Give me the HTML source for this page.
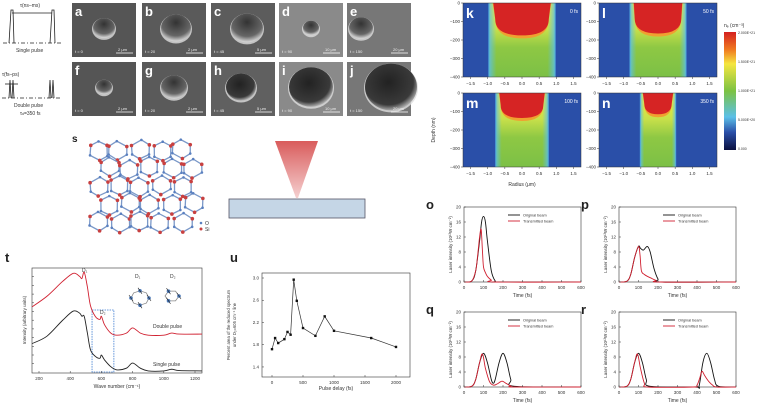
<!DOCTYPE html>
<html><head><meta charset="utf-8"><style>
html,body{margin:0;padding:0;background:#fff;}
svg{display:block;font-family:"Liberation Sans",sans-serif;}
</style></head><body>
<svg id="fig" width="762" height="405" viewBox="0 0 762 405">
<defs>
<linearGradient id="cbar" x1="0" y1="0" x2="0" y2="1">
<stop offset="0" stop-color="#d42020"/><stop offset="0.15" stop-color="#f07a20"/><stop offset="0.27" stop-color="#f5e640"/><stop offset="0.5" stop-color="#7cc242"/><stop offset="0.72" stop-color="#5bc0e8"/><stop offset="0.85" stop-color="#2a4fa8"/><stop offset="1" stop-color="#0a1040"/>
</linearGradient>
<linearGradient id="col" x1="0" y1="0" x2="0" y2="1">
<stop offset="0" stop-color="#f2ea3c"/><stop offset="0.35" stop-color="#c8e04a"/><stop offset="0.6" stop-color="#8ec844"/><stop offset="1" stop-color="#7cc046"/>
</linearGradient>
<linearGradient id="edge" x1="0" y1="0" x2="1" y2="0">
<stop offset="0" stop-color="#5bc0e8" stop-opacity="0.9"/><stop offset="0.12" stop-color="#5bc0e8" stop-opacity="0"/><stop offset="0.88" stop-color="#5bc0e8" stop-opacity="0"/><stop offset="1" stop-color="#5bc0e8" stop-opacity="0.9"/>
</linearGradient>
<linearGradient id="cone" x1="0" y1="0" x2="0" y2="1">
<stop offset="0" stop-color="#d95c5c"/><stop offset="1" stop-color="#f5d0d0"/>
</linearGradient>
<radialGradient id="holeD" cx="0.45" cy="0.4" r="0.6"><stop offset="0" stop-color="#222"/><stop offset="0.8" stop-color="#3a3a3a"/><stop offset="1" stop-color="#aaa"/></radialGradient>
<radialGradient id="holeS" cx="0.5" cy="0.3" r="0.7"><stop offset="0" stop-color="#333"/><stop offset="0.7" stop-color="#666"/><stop offset="1" stop-color="#ddd"/></radialGradient>
</defs>
<g id="schem" stroke="#222" fill="none" stroke-width="0.8">
<line x1="3" y1="43" x2="62" y2="43" stroke-dasharray="4,2,1,2"/>
<polyline points="9,43 11,10 13,10 14,43"/><polyline points="50,43 52,10 54,10 55,43"/>
<line x1="12" y1="13" x2="52" y2="13"/>
<line x1="2" y1="98" x2="62" y2="98" stroke-dasharray="4,2,1,2"/>
<polyline points="9,98 10,80 11,98"/><polyline points="12,98 13,80 14,98"/>
<polyline points="49,98 50,80 51,98"/><polyline points="52,98 53,80 54,98"/>
<line x1="5" y1="84" x2="18" y2="84"/>
</g>
<g font-size="5" fill="#333">
<text x="20" y="7">τ(ns–ms)</text><text x="16" y="52">Single pulse</text>
<text x="2" y="76">τ(fs–ps)</text><text x="14" y="107">Double pulse</text><text x="20" y="115">τ<tspan font-size="3.5">d</tspan>=350 fs</text>
</g>
<g id="sem"></g>
<g id="heat"></g>
<g id="s"></g>
<g>
<polygon points="275,141 318,141 298,198 296,198" fill="url(#cone)"/>
<rect x="229" y="199" width="136" height="19" fill="#c5d6e6" stroke="#556" stroke-width="0.8"/>
</g>
<g id="t"></g>
<g id="u"></g>
<g id="lines"></g>
</svg>
<script>
// ---- data ----
const semLabels=['a','b','c','d','e','f','g','h','i','j'];
const semTimes=['0','20','45','90','150','0','20','45','90','150'];
const semScale=['2 μm','2 μm','5 μm','10 μm','20 μm','2 μm','2 μm','5 μm','10 μm','20 μm'];
const heatLabels=['k','l','m','n'];
const heatTimes=['0 fs','50 fs','100 fs','350 fs'];
const heatHalfWidth=[0.95,0.8,0.75,0.5];
const heatRedDepth=[175,165,135,115];
const heatRedHalf=[0.78,0.68,0.62,0.4];
const radiusTicks=[-1.5,-1,-0.5,0,0.5,1,1.5];
const depthTicks=[0,-100,-200,-300,-400];
const cbarLabels=['2.000E+21','1.500E+21','1.000E+21','5.000E+20','0.000'];
const ramanX=[155,250,350,420,460,475,490,510,530,560,590,600,620,660,700,760,800,850,900,1000,1050,1100,1245];
const ramanDouble=[63,73,87,95,92,90,96,82,64,54,51,54,46,38,36,38,43,38,36,36,38,37,37];
const ramanSingle=[28,35,50,59,57,54,54,38,22,16,14,17,12.5,6,3,4.6,9.4,4.6,2,2,3.6,2.3,2];
const ramanTicks=[200,400,600,800,1000,1200];
const delayX=[0,50,100,200,250,300,350,400,500,700,850,1000,1600,2000];
const areaY=[1.72,1.92,1.83,1.9,2.03,1.98,2.97,2.59,2.1,1.96,2.31,2.05,1.92,1.76];
const delayTicks=[0,500,1000,1500,2000];
const areaTicks=[1.4,1.8,2.2,2.6,3.0];
const timeTicks=[0,100,200,300,400,500,600];
const intTicks=[0,4,8,12,16,20];
const oOrigX=[0,40,60,80,90,100,110,120,140,160,180,600], oOrigY=[0,0.3,3,11,16,17.5,16,11,3,0.3,0,0];
const oTranX=[0,40,60,70,80,88,95,100,110,120,140,160,600], oTranY=[0,0.3,3,7,12,14,8,4,2.5,1.5,0.5,0,0];
const pOrigX=[0,40,60,80,100,110,125,145,160,180,200,220,600], pOrigY=[0,0.2,2,6.5,9.5,9,8.5,9.5,8,3.5,0.8,0,0];
const pTranX=[0,40,60,80,100,108,115,130,150,170,190,210,600], pTranY=[0,0.2,2,6.5,9.5,7,3,2,1.4,0.9,0.4,0,0];
const qOrigX=[0,40,60,80,100,120,140,150,160,180,200,220,240,260,600], qOrigY=[0,0.2,2,6.5,9,6.5,2,1,2,6.5,9,6.5,2,0.2,0];
const qTranX=[0,40,60,80,95,110,130,150,170,190,200,215,240,260,600], qTranY=[0,0.2,2,6.5,8.8,5,1.5,0.5,0.8,1.5,1.5,1,0.3,0,0];
const rOrigX=[0,40,60,80,100,120,140,160,390,410,430,450,470,490,510,600], rOrigY=[0,0.2,2,6.5,9,6.5,2,0.2,0,0.2,6.5,9,6.5,2,0.2,0];
const rTranX=[0,40,60,80,95,110,130,150,380,400,415,425,440,460,480,500,600], rTranY=[0,0.2,2,6.5,8.8,5,1,0,0,0.5,2.5,4.2,3,1.5,0.5,0,0];

const NS='http://www.w3.org/2000/svg';
function mk(p,tag,attrs,txt){const e=document.createElementNS(NS,tag);for(const k in attrs)e.setAttribute(k,attrs[k]);if(txt!==undefined)e.textContent=txt;p.appendChild(e);return e;}

// ---- SEM ----
const sem=document.getElementById('sem');
const colX=[72,142,211,279,347], rowY=[3,62], W=64, H=54;
const holeR=[[11,15,16,8,12],[8,13,15,22,26]];
const holeDX=[[0,2,4,0,-18],[0,0,-2,0,12]];
const bg=[['#555','#5a5a5a','#5c5c5c','#8a8a8a','#777'],['#555','#5a5a5a','#606060','#8a8a8a','#777']];
semLabels.forEach((lab,i)=>{
 const r=Math.floor(i/5),c=i%5,x=colX[c],y=rowY[r];
 const g=mk(sem,'g',{});
 
 
 mk(g,'rect',{x:x,y:y,width:W,height:H,fill:bg[r][c]});
 const cx=x+W/2+holeDX[r][c],cy=y+H/2-2,rr=holeR[r][c];
 const dark=(r==1&&c>=2);
 mk(g,'ellipse',{cx:cx,cy:cy+1,rx:rr+1,ry:rr*0.9+1,fill:'#ddd',opacity:0.8});
 mk(g,'ellipse',{cx:cx,cy:cy,rx:rr,ry:rr*0.9,fill:dark?'url(#holeD)':'url(#holeS)'});
 mk(g,'text',{x:x+3,y:y+13,'font-size':13,'font-weight':'bold',fill:'#fff'},lab);
 mk(g,'text',{x:x+3,y:y+H-4,'font-size':4,fill:'#eee'},'t = '+semTimes[i]);
 mk(g,'text',{x:x+W-18,y:y+H-6,'font-size':4,fill:'#eee'},semScale[i]);
 mk(g,'line',{x1:x+W-20,y1:y+H-4,x2:x+W-3,y2:y+H-4,stroke:'#fff','stroke-width':0.8});
});
// ---- Heat maps ----
const heat=document.getElementById('heat');
const hx=[463,599,463,599], hy=[3,3,93,93], hw=118, hh=74;
heatLabels.forEach((lab,i)=>{
 const x0=hx[i],y0=hy[i];
 const xs=v=>x0+(v+1.72)/3.44*hw, ys=d=>y0+(-d)/400*hh;
 const g=mk(heat,'g',{});
 
 
 mk(g,'rect',{x:x0,y:y0,width:hw,height:hh,fill:'#2a4fa8'});
 const w=heatHalfWidth[i];
 mk(g,'rect',{x:xs(-w),y:y0,width:xs(w)-xs(-w),height:hh,fill:'url(#col)'});
 mk(g,'rect',{x:xs(-w)-1,y:y0,width:xs(w)-xs(-w)+2,height:hh,fill:'url(#edge)'});
 const rw=heatRedHalf[i],rd=heatRedDepth[i];
 const ax=xs(-rw),bx=xs(rw),by=ys(-rd);
 mk(g,'path',{d:`M${xs(-w*0.9)},${y0} L${ax},${y0+ (by-y0)*0.5} Q${ax},${by+3} ${(ax+bx)/2},${by+3} Q${bx},${by+3} ${bx},${y0+(by-y0)*0.5} L${xs(w*0.9)},${y0} Z`,fill:'#f0a030'});
 mk(g,'path',{d:`M${xs(-w*0.88)},${y0} L${ax},${y0+(by-y0)*0.5} Q${ax},${by} ${(ax+bx)/2},${by} Q${bx},${by} ${bx},${y0+(by-y0)*0.5} L${xs(w*0.88)},${y0} Z`,fill:'#d62424'});
 mk(g,'text',{x:x0+3,y:y0+15,'font-size':14,'font-weight':'bold',fill:'#fff'},lab);
 mk(g,'text',{x:x0+hw-3,y:y0+10,'font-size':5,fill:'#fff','text-anchor':'end'},heatTimes[i]);
 mk(g,'rect',{x:x0,y:y0,width:hw,height:hh,fill:'none',stroke:'#333','stroke-width':0.5});
 radiusTicks.forEach(v=>{
  mk(g,'line',{x1:xs(v),y1:y0+hh,x2:xs(v),y2:y0+hh+2,stroke:'#333','stroke-width':0.5});
  mk(g,'text',{x:xs(v),y:y0+hh+8,'font-size':4.5,fill:'#333','text-anchor':'middle'},v===0?'0.0':(v<0?'−':'')+Math.abs(v).toFixed(1));
 });
 depthTicks.forEach(d=>{
  mk(g,'line',{x1:x0-2,y1:ys(d),x2:x0,y2:ys(d),stroke:'#333','stroke-width':0.5});
  mk(g,'text',{x:x0-3,y:ys(d)+1.5,'font-size':4.5,fill:'#333','text-anchor':'end'},d===0?'0':'−'+(-d));
 });
});
mk(heat,'text',{x:522,y:186,'font-size':5,fill:'#333','text-anchor':'middle'},'Radius (μm)');
mk(heat,'text',{x:0,y:0,'font-size':5,fill:'#333','text-anchor':'middle',transform:'translate(435,130) rotate(-90)'},'Depth (nm)');
mk(heat,'rect',{x:724,y:32,width:12,height:118,fill:'url(#cbar)'});
mk(heat,'text',{x:724,y:27,'font-size':5,fill:'#333'},'nₑ (cm⁻³)');
cbarLabels.forEach((l,i)=>mk(heat,'text',{x:738,y:34+i*29,'font-size':3.5,fill:'#333'},l));

// ---- silica network ----
const sg=document.getElementById('s');
mk(sg,'text',{x:72,y:142,'font-size':10,'font-weight':'bold',fill:'#222'},'s');
const jit=[0.3,-0.4,0.2,0.5,-0.2,-0.5,0.4,0.1,-0.3,0.2];
for(let r=0;r<5;r++){for(let c=0;c<5;c++){
 const cx=98+c*21+(r%2)*10.5+jit[(r*3+c)%10]*3, cy=150+r*18+jit[(r+c*2)%10]*3;
 if(cx>200)continue;
 const pts=[];for(let k=0;k<6;k++){const a=Math.PI/3*k+Math.PI/6+jit[(k+r+c)%10]*0.2;pts.push([cx+10*Math.cos(a),cy+9.5*Math.sin(a)]);}
 mk(sg,'polygon',{points:pts.map(p=>p.join(',')).join(' '),fill:'none',stroke:'#7a98c8','stroke-width':1.3});
 pts.forEach((p,k)=>{mk(sg,'circle',{cx:p[0],cy:p[1],r:k%2?1.8:1.3,fill:k%2?'#c84040':'#5a80c0'});});
}}
mk(sg,'circle',{cx:201,cy:223,r:1.3,fill:'#5a80c0'});mk(sg,'text',{x:205,y:225,'font-size':5,fill:'#333'},'O');
mk(sg,'circle',{cx:201,cy:229,r:1.5,fill:'#c84040'});mk(sg,'text',{x:205,y:231,'font-size':5,fill:'#333'},'Si');

function smooth(pts){let d='M'+pts[0][0].toFixed(1)+','+pts[0][1].toFixed(1);
 for(let i=0;i<pts.length-1;i++){const p0=pts[i-1]||pts[i],p1=pts[i],p2=pts[i+1],p3=pts[i+2]||p2;
  const c1=[p1[0]+(p2[0]-p0[0])/6,p1[1]+(p2[1]-p0[1])/6],c2=[p2[0]-(p3[0]-p1[0])/6,p2[1]-(p3[1]-p1[1])/6];
  d+=` C${c1[0].toFixed(1)},${c1[1].toFixed(1)} ${c2[0].toFixed(1)},${c2[1].toFixed(1)} ${p2[0].toFixed(1)},${p2[1].toFixed(1)}`;}
 return d;}
function pl(g,xs,ys,X,Y,col,nm,w,sm){let e;
 if(sm){e=mk(g,'path',{d:smooth(X.map((v,i)=>[xs(v),ys(Y[i])])),fill:'none',stroke:col,'stroke-width':w||0.9});}
 else e=mk(g,'polyline',{points:X.map((v,i)=>xs(v).toFixed(1)+','+ys(Y[i]).toFixed(1)).join(' '),fill:'none',stroke:col,'stroke-width':w||0.9});
 return e;}

// ---- t: Raman ----
const tg=document.getElementById('t');
const tx0=32,tx1=202,ty0=268,ty1=373;
const txs=v=>39+(v-200)*0.156, tys=v=>ty1-v/100*(ty1-ty0);
mk(tg,'text',{x:5,y:262,'font-size':13,'font-weight':'bold',fill:'#222'},'t');
mk(tg,'rect',{x:tx0,y:ty0,width:tx1-tx0,height:ty1-ty0,fill:'none',stroke:'#333','stroke-width':0.6});
mk(tg,'rect',{x:txs(540),y:tys(60),width:txs(680)-txs(540),height:tys(0)-tys(60)-1,fill:'none',stroke:'#3a7ad0','stroke-width':0.8,'stroke-dasharray':'1.5,1'});
pl(tg,txs,tys,ramanX,ramanDouble,'#d02030','raman-double-pulse',0.9,true);
pl(tg,txs,tys,ramanX,ramanSingle,'#222','raman-single-pulse',0.9,true);
ramanTicks.forEach(v=>{mk(tg,'line',{x1:txs(v),y1:ty1,x2:txs(v),y2:ty1-2,stroke:'#333','stroke-width':0.5});mk(tg,'text',{x:txs(v),y:ty1+7,'font-size':4.5,fill:'#333','text-anchor':'middle'},v);});
for(let i=1;i<12;i++)mk(tg,'line',{x1:tx0,y1:ty0+i*8.7,x2:tx0+2,y2:ty0+i*8.7,stroke:'#333','stroke-width':0.5});
mk(tg,'text',{x:117,y:388,'font-size':5,fill:'#333','text-anchor':'middle'},'Wave number (cm⁻¹)');
mk(tg,'text',{x:0,y:0,'font-size':4.5,fill:'#333','text-anchor':'middle',transform:'translate(26,320) rotate(-90)'},'Intensity (arbitrary units)');
mk(tg,'text',{x:82,y:272,'font-size':5,fill:'#333'},'D₁');mk(tg,'text',{x:100,y:314,'font-size':5,fill:'#333'},'D₂');
mk(tg,'text',{x:135,y:278,'font-size':5,fill:'#333'},'D₁');mk(tg,'text',{x:170,y:278,'font-size':5,fill:'#333'},'D₂');
mk(tg,'text',{x:153,y:328,'font-size':5,fill:'#333'},'Double pulse');mk(tg,'text',{x:153,y:366,'font-size':5,fill:'#333'},'Single pulse');
[[140,298,9],[172,296,7]].forEach(r=>{const[cx,cy,rr]=r;const n=rr>8?8:6;const pts=[];for(let k=0;k<n;k++){const a=2*Math.PI*k/n;pts.push([cx+rr*Math.cos(a),cy+rr*0.8*Math.sin(a)]);}
 mk(tg,'polygon',{points:pts.map(p=>p.join(',')).join(' '),fill:'none',stroke:'#888','stroke-width':0.8});
 pts.forEach((p,k)=>{if(k%2==0){mk(tg,'circle',{cx:p[0],cy:p[1],r:1.8,fill:'#4a78b8'});mk(tg,'line',{x1:p[0]-2,y1:p[1]-3,x2:p[0]+2,y2:p[1]+3,stroke:'#222','stroke-width':0.6});}});});

// ---- u ----
const ug=document.getElementById('u');
const ux0=262,ux1=410,uy0=273,uy1=377;
const uxs=v=>272+v*0.062, uys=v=>278+(3.0-v)*55.6;
mk(ug,'text',{x:230,y:262,'font-size':13,'font-weight':'bold',fill:'#222'},'u');
mk(ug,'rect',{x:ux0,y:uy0,width:ux1-ux0,height:uy1-uy0,fill:'none',stroke:'#333','stroke-width':0.6});
pl(ug,uxs,uys,delayX,areaY,'#333','area-line',0.7);
delayX.forEach((v,i)=>{const e=mk(ug,'rect',{x:uxs(v)-1.2,y:uys(areaY[i])-1.2,width:2.4,height:2.4,fill:'#111'});});
delayTicks.forEach(v=>{mk(ug,'line',{x1:uxs(v),y1:uy1,x2:uxs(v),y2:uy1-2,stroke:'#333','stroke-width':0.5});mk(ug,'text',{x:uxs(v),y:uy1+7,'font-size':4.5,fill:'#333','text-anchor':'middle'},v);});
areaTicks.forEach(v=>{mk(ug,'line',{x1:ux0,y1:uys(v),x2:ux0+2,y2:uys(v),stroke:'#333','stroke-width':0.5});mk(ug,'text',{x:ux0-3,y:uys(v)+1.5,'font-size':4.5,fill:'#333','text-anchor':'end'},v.toFixed(1));});
mk(ug,'text',{x:336,y:390,'font-size':5,fill:'#333','text-anchor':'middle'},'Pulse delay (fs)');
mk(ug,'text',{x:0,y:0,'font-size':4.2,fill:'#333','text-anchor':'middle',transform:'translate(230,325) rotate(-90)'},'Percent area of the reduced spectrum');
mk(ug,'text',{x:0,y:0,'font-size':4.2,fill:'#333','text-anchor':'middle',transform:'translate(236,325) rotate(-90)'},'under D₂=605 cm⁻¹ line');

// ---- o p q r ----
const lg=document.getElementById('lines');
const panels=[['o',464,207,oOrigX,oOrigY,oTranX,oTranY],['p',619,207,pOrigX,pOrigY,pTranX,pTranY],['q',464,312,qOrigX,qOrigY,qTranX,qTranY],['r',619,312,rOrigX,rOrigY,rTranX,rTranY]];
const pw=117,ph=75;
panels.forEach(p=>{
 const[lab,x0,y0,ox,oy,tx,ty]=p;
 const g=mk(lg,'g',{});
 
 
 const xs=v=>x0+v/600*pw, ys=v=>y0+ph-v/20*ph;
 mk(g,'text',{x:x0-38,y:y0+2,'font-size':13,'font-weight':'bold',fill:'#222'},lab);
 mk(g,'rect',{x:x0,y:y0,width:pw,height:ph,fill:'none',stroke:'#333','stroke-width':0.6});
 pl(g,xs,ys,ox,oy,'#111','original-beam-'+lab,0.9,true);
 pl(g,xs,ys,tx,ty,'#d02030','transmitted-beam-'+lab,0.9,true);
 timeTicks.forEach(v=>{mk(g,'line',{x1:xs(v),y1:y0+ph,x2:xs(v),y2:y0+ph-2,stroke:'#333','stroke-width':0.5});mk(g,'text',{x:xs(v),y:y0+ph+7,'font-size':4.5,fill:'#333','text-anchor':'middle'},v);});
 intTicks.forEach(v=>{mk(g,'line',{x1:x0,y1:ys(v),x2:x0+2,y2:ys(v),stroke:'#333','stroke-width':0.5});mk(g,'text',{x:x0-3,y:ys(v)+1.5,'font-size':4.5,fill:'#333','text-anchor':'end'},v);});
 mk(g,'text',{x:x0+pw/2,y:y0+ph+15,'font-size':5,fill:'#333','text-anchor':'middle'},'Time (fs)');
 mk(g,'text',{x:0,y:0,'font-size':4.5,fill:'#333','text-anchor':'middle',transform:`translate(${x0-12},${y0+ph/2}) rotate(-90)`},'Laser intensity (10¹³W cm⁻²)');
 mk(g,'line',{x1:x0+44,y1:y0+8,x2:x0+56,y2:y0+8,stroke:'#111','stroke-width':0.9});
 mk(g,'text',{x:x0+59,y:y0+9.5,'font-size':3.8,fill:'#333'},'Original beam');
 mk(g,'line',{x1:x0+44,y1:y0+14,x2:x0+56,y2:y0+14,stroke:'#d02030','stroke-width':0.9});
 mk(g,'text',{x:x0+59,y:y0+15.5,'font-size':3.8,fill:'#333'},'Transmitted beam');
});
</script>
</body></html>
